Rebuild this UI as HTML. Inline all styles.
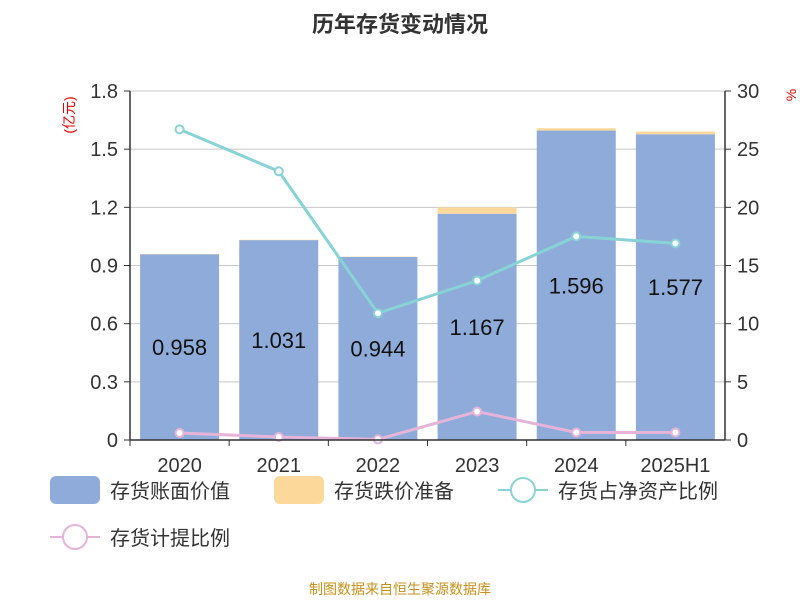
<!DOCTYPE html>
<html><head><meta charset="utf-8"><style>
body{margin:0;background:#fff;}
svg text{font-family:"Liberation Sans","Noto Sans CJK SC",sans-serif;}
</style></head><body>
<svg id="c" width="800" height="600" xmlns="http://www.w3.org/2000/svg">
<text x="400" y="32" text-anchor="middle" font-size="22" font-weight="bold" fill="#333">历年存货变动情况</text>
<text transform="translate(74,115) rotate(-90)" text-anchor="middle" font-size="14" fill="#e00">(亿元)</text>
<text transform="translate(796,95) rotate(-90)" text-anchor="middle" font-size="14" fill="#e00">%</text>
<g id="grid"></g><g id="bars"></g><g id="lines"></g><g id="axes"></g>
<g>
<rect x="50" y="476" width="50" height="28" rx="6" fill="#8eabd9"/>
<text x="110" y="498" font-size="20" fill="#333">存货账面价值</text>
<rect x="274" y="476" width="50" height="28" rx="6" fill="#fdd89b"/>
<text x="334" y="498" font-size="20" fill="#333">存货跌价准备</text>
<line x1="498" y1="490" x2="548" y2="490" stroke="#88d3d6" stroke-width="2"/>
<circle cx="523" cy="490" r="12" fill="#fff" stroke="#88d3d6" stroke-width="2"/>
<text x="558" y="498" font-size="20" fill="#333">存货占净资产比例</text>
<line x1="50" y1="537" x2="100" y2="537" stroke="#e6b3d9" stroke-width="2"/>
<circle cx="75" cy="537" r="12" fill="#fff" stroke="#e6b3d9" stroke-width="2"/>
<text x="110" y="545" font-size="20" fill="#333">存货计提比例</text>
</g>
<text x="400" y="594" text-anchor="middle" font-size="14" fill="#c8901a">制图数据来自恒生聚源数据库</text>
</svg>
<script>
const categories=["2020","2021","2022","2023","2024","2025H1"];
const bookValue=[0.958,1.031,0.944,1.167,1.596,1.577];
const reserve=[0.002,0.002,0.002,0.033,0.012,0.014];
const netAssetRatio=[26.7,23.1,10.9,13.7,17.5,16.9];
const provisionRatio=[0.6,0.26,0.05,2.45,0.65,0.65];
const leftTicks=[0,0.3,0.6,0.9,1.2,1.5,1.8];
const rightTicks=[0,5,10,15,20,25,30];
const NS="http://www.w3.org/2000/svg";
const L=130,R=725,T=91,B=440;
const band=(R-L)/categories.length;
const xc=i=>L+band*(i+0.5);
const yl=v=>B-(v/1.8)*(B-T);
const yr=v=>B-(v/30)*(B-T);
function mk(tag,attrs,parent){const e=document.createElementNS(NS,tag);for(const k in attrs)e.setAttribute(k,attrs[k]);document.getElementById(parent).appendChild(e);return e;}
leftTicks.forEach((t,i)=>{
 const g=mk("line",{x1:L,x2:R,y1:yl(t),y2:yl(t),stroke:"#c8c8c8","stroke-width":1},"grid");
 
 
 const tl=mk("text",{x:L-12,y:yl(t)+7,"text-anchor":"end","font-size":20,fill:"#333"},"axes");tl.textContent=t===0?"0":t.toFixed(1);
 
 
 mk("line",{x1:L-6,x2:L,y1:yl(t),y2:yl(t),stroke:"#333"},"axes");
});
rightTicks.forEach(t=>{
 const tl=mk("text",{x:R+12,y:yr(t)+7,"font-size":20,fill:"#333"},"axes");tl.textContent=t;
 
 
 mk("line",{x1:R,x2:R+6,y1:yr(t),y2:yr(t),stroke:"#333"},"axes");
});
mk("line",{x1:L,x2:L,y1:T,y2:B,stroke:"#333","stroke-width":1.5},"axes");
mk("line",{x1:R,x2:R,y1:T,y2:B,stroke:"#333","stroke-width":1.5},"axes");
mk("line",{x1:L,x2:R,y1:B,y2:B,stroke:"#333","stroke-width":1.5},"axes");
const bw=79;
categories.forEach((c,i)=>{
 const b=mk("rect",{x:xc(i)-bw/2,y:yl(bookValue[i]),width:bw,height:B-yl(bookValue[i]),fill:"#8eabd9"},"bars");
 
 
 const r=mk("rect",{x:xc(i)-bw/2,y:yl(bookValue[i]+reserve[i]),width:bw,height:yl(bookValue[i])-yl(bookValue[i]+reserve[i]),fill:"#fdd89b"},"bars");
 
 
 const v=mk("text",{x:xc(i),y:(yl(bookValue[i])+B)/2+8,"text-anchor":"middle","font-size":22,fill:"#111"},"bars");v.textContent=bookValue[i].toFixed(3);
 
 
 const tl=mk("text",{x:xc(i),y:B+32,"text-anchor":"middle","font-size":20,fill:"#333"},"axes");tl.textContent=c;
 
 
 mk("line",{x1:L+band*i,x2:L+band*i,y1:B,y2:B+6,stroke:"#333"},"axes");
});
function series(vals,color,name){
 const p=mk("polyline",{points:vals.map((v,i)=>xc(i)+","+yr(v)).join(" "),fill:"none",stroke:color,"stroke-width":3},"lines");
 
 
 vals.forEach((v,i)=>{const d=mk("circle",{cx:xc(i),cy:yr(v),r:4,fill:"#fff",stroke:color,"stroke-width":2},"lines");
 
 });
}
series(netAssetRatio,"#88d3d6","net-asset-ratio");
series(provisionRatio,"#e6b3d9","provision-ratio");
</script>
</body></html>
